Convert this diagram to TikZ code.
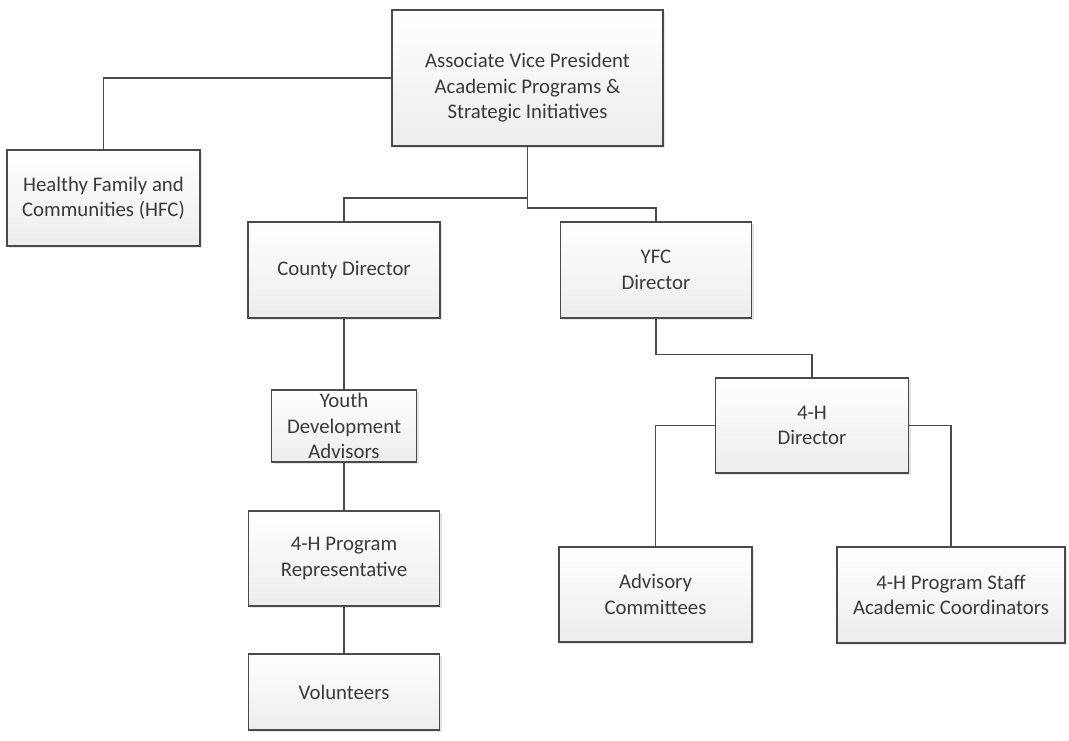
\documentclass[tikz,border=0pt]{standalone}
\usepackage{fontspec}
\setmainfont{Carlito}
\usetikzlibrary{shadows}
\definecolor{boxline}{HTML}{4A4A4A}
\definecolor{txt}{HTML}{3A3A3A}
\definecolor{boxbot}{HTML}{EDEDED}
\tikzset{
  orgfont/.style={text=txt, align=center, font=\fontsize{20.8}{25.5}\selectfont},
  orgbox/.style={draw=boxline, line width=1.3pt, top color=white, bottom color=boxbot,
    drop shadow={opacity=0.2, shadow xshift=2pt, shadow yshift=-2pt},
    inner sep=0pt, orgfont},
  link/.style={draw=boxline, line width=1.4pt}
}
\begin{document}
\begin{tikzpicture}[x=1pt,y=-1pt]
\useasboundingbox (0,0) rectangle (1069,741);
\node[orgbox, minimum width=271pt, minimum height=136pt,
  label={[orgfont, yshift=-10pt]center:{Associate Vice President\\Academic Programs \&\\Strategic Initiatives}}]
  (avp) at (527.5,78) {};
\node[orgbox, minimum width=193pt, minimum height=96pt] (hfc) at (103.5,198)
  {Healthy Family and\\Communities (HFC)};
\node[orgbox, minimum width=192pt, minimum height=96pt] (county) at (344,270)
  {County Director};
\node[orgbox, minimum width=191pt, minimum height=96pt] (yfc) at (656,270)
  {YFC\\Director};
\node[orgbox, minimum width=145pt, minimum height=72pt] (yda) at (344,426)
  {Youth\\Development\\Advisors};
\node[orgbox, minimum width=191pt, minimum height=95pt] (rep) at (344,558.5)
  {4-H Program\\Representative};
\node[orgbox, minimum width=191pt, minimum height=76pt] (vol) at (344,692)
  {Volunteers};
\node[orgbox, minimum width=193pt, minimum height=95pt] (hd) at (812,425.5)
  {4-H\\Director};
\node[orgbox, minimum width=193pt, minimum height=95pt] (adv) at (655.5,594.5)
  {Advisory\\Committees};
\node[orgbox, minimum width=228pt, minimum height=96pt] (staff) at (951,595)
  {4-H Program Staff\\Academic Coordinators};
\coordinate (jl) at (527.5,198);
\coordinate (jr) at (527.5,208);
\path[link] (avp.west) -| (hfc.north);
\path[link] (avp.south) -- (jl) -| (county.north);
\path[link] (jl) -- (jr) -| (yfc.north);
\path[link] (county.south) -- (yda.north);
\path[link] (yda.south) -- (rep.north);
\path[link] (rep.south) -- (vol.north);
\path[link] (yfc.south) -- ++(0,36) -| (hd.north);
\path[link] (hd.west) -| (adv.north);
\path[link] (hd.east) -| (staff.north);
\end{tikzpicture}
\end{document}
